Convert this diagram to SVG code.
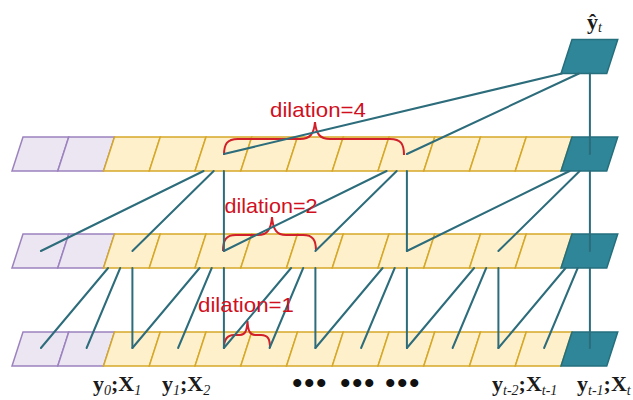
<svg xmlns="http://www.w3.org/2000/svg" xmlns:xlink="http://www.w3.org/1999/xlink" width="633" height="400" viewBox="0 0 633 400">
<defs>
<style>
.pad{fill:#ebe6f1;stroke:#9c82bf;stroke-width:1.5}
.hid{fill:#fff0cc;stroke:#d6a829;stroke-width:1.5}
.out{fill:#2f8698;stroke:#256f7d;stroke-width:1.5}
.conn line{stroke:#2c6c7b;stroke-width:2;stroke-linecap:round}
.brace{fill:none;stroke:#d2202a;stroke-width:2}
.dil{font-family:"Liberation Sans","DejaVu Sans",sans-serif;font-size:21px;fill:#d0101e;text-anchor:middle}
.lbl{font-family:"Liberation Serif","DejaVu Serif",serif;font-size:22px;fill:#1a1a1a;font-weight:bold}
.sub{font-style:italic;font-size:14px;font-weight:normal}
.dots{font-family:"Liberation Serif","DejaVu Serif",serif;font-size:30px;fill:#111;font-weight:bold;letter-spacing:1.5px}
</style>
<path id="cell" d="M11,0 H56.75 L45.75,34 H0 Z"/>
</defs>

<g id="row-bottom">
<g id="b0"><use href="#cell" class="pad" x="12" y="332"/></g>
<g id="b1"><use href="#cell" class="pad" x="57.75" y="332"/></g>
<g id="b2"><use href="#cell" class="hid" x="103.5" y="332"/></g>
<g id="b3"><use href="#cell" class="hid" x="149.25" y="332"/></g>
<g id="b4"><use href="#cell" class="hid" x="195" y="332"/></g>
<g id="b5"><use href="#cell" class="hid" x="240.75" y="332"/></g>
<g id="b6"><use href="#cell" class="hid" x="286.5" y="332"/></g>
<g id="b7"><use href="#cell" class="hid" x="332.25" y="332"/></g>
<g id="b8"><use href="#cell" class="hid" x="378" y="332"/></g>
<g id="b9"><use href="#cell" class="hid" x="423.75" y="332"/></g>
<g id="b10"><use href="#cell" class="hid" x="469.5" y="332"/></g>
<g id="b11"><use href="#cell" class="hid" x="515.25" y="332"/></g>
<g id="b12"><use href="#cell" class="out" x="561" y="332"/></g>
</g>

<g id="row-middle">
<g id="m0"><use href="#cell" class="pad" x="12" y="234"/></g>
<g id="m1"><use href="#cell" class="pad" x="57.75" y="234"/></g>
<g id="m2"><use href="#cell" class="hid" x="103.5" y="234"/></g>
<g id="m3"><use href="#cell" class="hid" x="149.25" y="234"/></g>
<g id="m4"><use href="#cell" class="hid" x="195" y="234"/></g>
<g id="m5"><use href="#cell" class="hid" x="240.75" y="234"/></g>
<g id="m6"><use href="#cell" class="hid" x="286.5" y="234"/></g>
<g id="m7"><use href="#cell" class="hid" x="332.25" y="234"/></g>
<g id="m8"><use href="#cell" class="hid" x="378" y="234"/></g>
<g id="m9"><use href="#cell" class="hid" x="423.75" y="234"/></g>
<g id="m10"><use href="#cell" class="hid" x="469.5" y="234"/></g>
<g id="m11"><use href="#cell" class="hid" x="515.25" y="234"/></g>
<g id="m12"><use href="#cell" class="out" x="561" y="234"/></g>
</g>

<g id="row-top">
<g id="t0"><use href="#cell" class="pad" x="12" y="137"/></g>
<g id="t1"><use href="#cell" class="pad" x="57.75" y="137"/></g>
<g id="t2"><use href="#cell" class="hid" x="103.5" y="137"/></g>
<g id="t3"><use href="#cell" class="hid" x="149.25" y="137"/></g>
<g id="t4"><use href="#cell" class="hid" x="195" y="137"/></g>
<g id="t5"><use href="#cell" class="hid" x="240.75" y="137"/></g>
<g id="t6"><use href="#cell" class="hid" x="286.5" y="137"/></g>
<g id="t7"><use href="#cell" class="hid" x="332.25" y="137"/></g>
<g id="t8"><use href="#cell" class="hid" x="378" y="137"/></g>
<g id="t9"><use href="#cell" class="hid" x="423.75" y="137"/></g>
<g id="t10"><use href="#cell" class="hid" x="469.5" y="137"/></g>
<g id="t11"><use href="#cell" class="hid" x="515.25" y="137"/></g>
<g id="t12"><use href="#cell" class="out" x="561" y="137"/></g>
</g>

<g id="output">
<use href="#cell" class="out" x="561" y="39.5"/>
<text class="lbl" x="587" y="29" font-size="20">ŷ<tspan class="sub" font-size="13" dy="3">t</tspan></text>
</g>

<g id="braces">
<path class="brace" d="M224,155 C224,144 227,139 238,139 L300,139 C310,139 314,134 315,122 C316,134 320,139 330,139 L390,139 C401,139 404,144 404,155"/>
<path class="brace" d="M223,251 C223,240 226,235 236,235 L258,235 C267,235 271,230 272,217 C273,230 277,235 286,235 L303,235 C313,235 316,240 316,251"/>
<path class="brace" d="M224,348 C224,339 227,335 234,335 L240,335 C245,335 247,331 247.5,321 C248,331 250,335 255,335 L261,335 C268,335 270,339 270,348"/>
</g>

<g class="conn" id="connectors">
<line x1="40.9" y1="348" x2="108.1" y2="268"/>
<line x1="86.6" y1="348" x2="120.2" y2="268"/>
<line x1="132.4" y1="348" x2="132.4" y2="268"/>
<line x1="132.4" y1="348" x2="199.6" y2="268"/>
<line x1="178.1" y1="348" x2="211.7" y2="268"/>
<line x1="223.9" y1="348" x2="223.9" y2="268"/>
<line x1="223.9" y1="348" x2="291.1" y2="268"/>
<line x1="269.6" y1="348" x2="303.2" y2="268"/>
<line x1="315.4" y1="348" x2="315.4" y2="268"/>
<line x1="315.4" y1="348" x2="382.6" y2="268"/>
<line x1="361.1" y1="348" x2="394.7" y2="268"/>
<line x1="406.9" y1="348" x2="406.9" y2="268"/>
<line x1="406.9" y1="348" x2="474.1" y2="268"/>
<line x1="452.6" y1="348" x2="486.2" y2="268"/>
<line x1="498.4" y1="348" x2="498.4" y2="268"/>
<line x1="498.4" y1="348" x2="565.6" y2="268"/>
<line x1="544.1" y1="348" x2="577.7" y2="268"/>
<line x1="589.9" y1="348" x2="589.9" y2="268"/>

<line x1="40.9" y1="251" x2="203.6" y2="171"/>
<line x1="132.4" y1="251" x2="213.7" y2="171"/>
<line x1="223.9" y1="251" x2="223.9" y2="171"/>
<line x1="223.9" y1="251" x2="386.6" y2="171"/>
<line x1="315.4" y1="251" x2="396.7" y2="171"/>
<line x1="406.9" y1="251" x2="406.9" y2="171"/>
<line x1="406.9" y1="251" x2="569.6" y2="171"/>
<line x1="498.4" y1="251" x2="579.7" y2="171"/>
<line x1="589.9" y1="251" x2="589.9" y2="171"/>

<line x1="223.9" y1="154" x2="562" y2="73.5"/>
<line x1="406.9" y1="154" x2="579" y2="73.5"/>
<line x1="589.9" y1="154" x2="589.9" y2="73.5"/>
</g>

<g id="labels">
<text class="dil" x="318" y="117" textLength="96" lengthAdjust="spacingAndGlyphs">dilation=4</text>
<text class="dil" x="271" y="213" textLength="93" lengthAdjust="spacingAndGlyphs">dilation=2</text>
<text class="dil" x="246" y="312" textLength="96" lengthAdjust="spacingAndGlyphs">dilation=1</text>
<text class="lbl" x="93" y="391">y<tspan class="sub" dy="4">0</tspan><tspan dy="-4">;X</tspan><tspan class="sub" dy="4">1</tspan></text>
<text class="lbl" x="162" y="391">y<tspan class="sub" dy="4">1</tspan><tspan dy="-4">;X</tspan><tspan class="sub" dy="4">2</tspan></text>
<text class="dots" x="292" y="393">•••</text>
<text class="dots" x="340" y="393">•••</text>
<text class="dots" x="385" y="393">•••</text>
<text class="lbl" x="492" y="391">y<tspan class="sub" dy="4">t-2</tspan><tspan dy="-4">;X</tspan><tspan class="sub" dy="4">t-1</tspan></text>
<text class="lbl" x="577" y="391">y<tspan class="sub" dy="4">t-1</tspan><tspan dy="-4">;X</tspan><tspan class="sub" dy="4">t</tspan></text>
</g>
</svg>
